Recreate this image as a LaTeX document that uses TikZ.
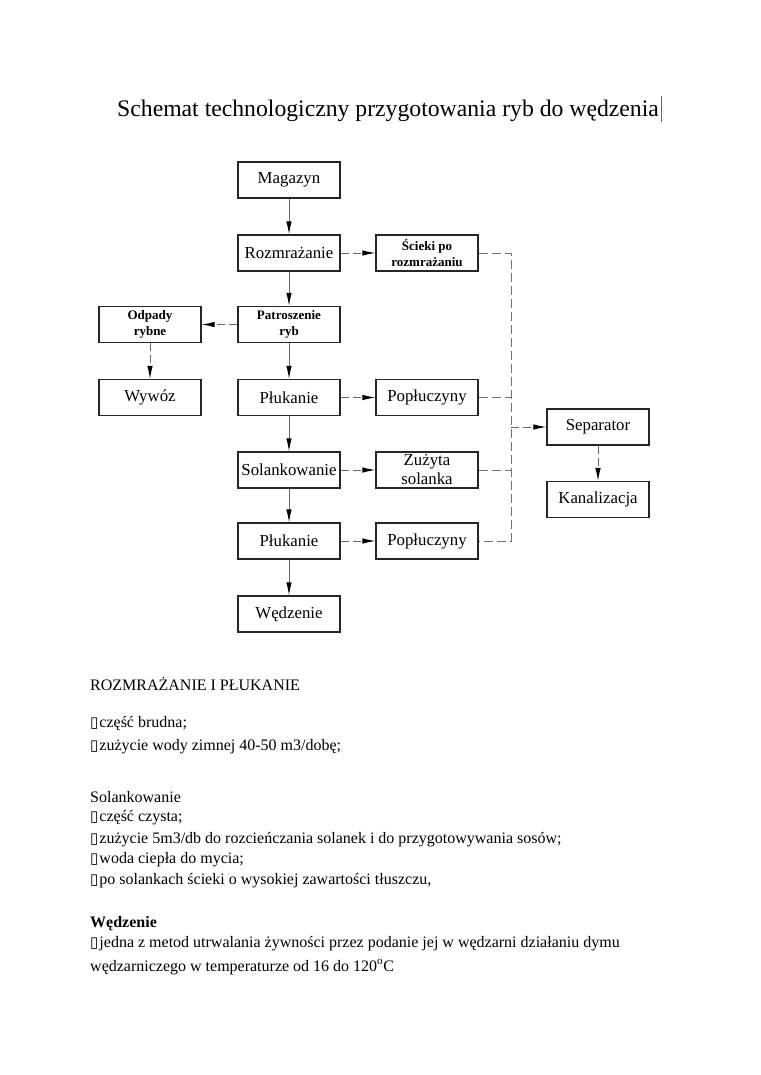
\documentclass[tikz,border=0pt]{standalone}
\usepackage{fontspec}
\setmainfont{Liberation Serif}
\newfontfamily\dejavu{DejaVu Sans}
\usetikzlibrary{arrows.meta}
\newcommand\tofu{{\dejavu\fontsize{15}{15}\selectfont ▯}\kern1pt}
\begin{document}
\begin{tikzpicture}[x=1pt,y=-1pt,
 box/.style={draw=black!85, line width=1.1pt, minimum width=102pt, minimum height=36pt, inner sep=0pt, font=\fontsize{16.8}{19}\selectfont, align=center},
 smallbox/.style={box, font=\bfseries\fontsize{13}{16}\selectfont},
 flow/.style={draw=black!60, line width=1pt, -{Latex[length=13pt,width=5.5pt,color=black]}},
 dflow/.style={flow, dash pattern=on 8pt off 4pt},
 dline/.style={draw=black!55, line width=1pt, dash pattern=on 9pt off 4pt},
 body/.style={anchor=base west, inner sep=0pt, font=\fontsize{16}{18}\selectfont}
]
\useasboundingbox (0,0) rectangle (760,1075);

% title
\node[anchor=base west, inner sep=0pt, font=\fontsize{23.7}{26}\selectfont] (title) at (117,117) {Schemat technologiczny przygotowania ryb do wędzenia};
\coordinate (cur) at ([xshift=2pt]title.base east);
\draw[black!60, line width=0.8pt] ([yshift=21pt]cur) -- ([yshift=-5pt]cur);

% main column
\node[box] (mag) at (289,180) {Magazyn};
\node[box] (roz) at (289,253) {Rozmrażanie};
\node[smallbox] (pat) at (289,324.5) {Patroszenie\\ryb};
\node[box] (pl1) at (289,397.5) {Płukanie};
\node[box] (sol) at (289,470) {Solankowanie};
\node[box] (pl2) at (289,541) {Płukanie};
\node[box] (wed) at (289,614) {Wędzenie};

% left column
\node[smallbox] (odp) at (150,324.5) {Odpady\\rybne};
\node[box] (wyw) at (150,397.5) {Wywóz};

% side column
\node[smallbox] (sci) at (427,253) {Ścieki po\\rozmrażaniu};
\node[box] (po1) at (427,397.5) {Popłuczyny};
\node[box] (zuz) at (427,470) {Zużyta\\solanka};
\node[box] (po2) at (427,541) {Popłuczyny};

% right column
\node[box] (sep) at (598,427) {Separator};
\node[box] (kan) at (598,499.5) {Kanalizacja};

% solid flow
\draw[flow] (mag) -- (roz);
\draw[flow] (roz) -- (pat);
\draw[flow] (pat) -- (pl1);
\draw[flow] (pl1) -- (sol);
\draw[flow] (sol) -- (pl2);
\draw[flow] (pl2) -- (wed);

% dashed flows
\draw[dflow] (roz) -- (sci);
\draw[dflow] (pat) -- (odp);
\draw[dflow] (odp) -- (wyw);
\draw[dflow] (pl1) -- (po1);
\draw[dflow] (sol) -- (zuz);
\draw[dflow] (pl2) -- (po2);
\draw[dflow] (sep) -- (kan);

% collector
\coordinate (cb) at (511,541);
\draw[dline] (sci.east) -| (cb) -- (po2.east);
\draw[dline] (po1.east) -- (po1.east -| cb);
\draw[dline] (zuz.east) -- (zuz.east -| cb);
\draw[dflow] (sep.west -| cb) -- (sep.west);

% text
\node[body] (t1) at (90,690) {ROZMRAŻANIE I PŁUKANIE};
\node[body] (t2) at (90,727) {\tofu część brudna;};
\node[body] (t3) at (90,750) {\tofu zużycie wody zimnej 40-50 m3/dobę;};
\node[body] (t4) at (90,802) {Solankowanie};
\node[body] (t5) at (90,821) {\tofu część czysta;};
\node[body] (t6) at (90,843) {\tofu zużycie 5m3/db do rozcieńczania solanek i do przygotowywania sosów;};
\node[body] (t7) at (90,863) {\tofu woda ciepła do mycia;};
\node[body] (t8) at (90,884) {\tofu po solankach ścieki o wysokiej zawartości tłuszczu,};
\node[body, font=\bfseries\fontsize{16}{18}\selectfont] (t9) at (90,927) {Wędzenie};
\node[body] (t10) at (90,947) {\tofu jedna z metod utrwalania żywności przez podanie jej w wędzarni działaniu dymu};
\node[body] (t11) at (90,971) {wędzarniczego w temperaturze od 16 do 120\textsuperscript{o}C};
\end{tikzpicture}
\end{document}
